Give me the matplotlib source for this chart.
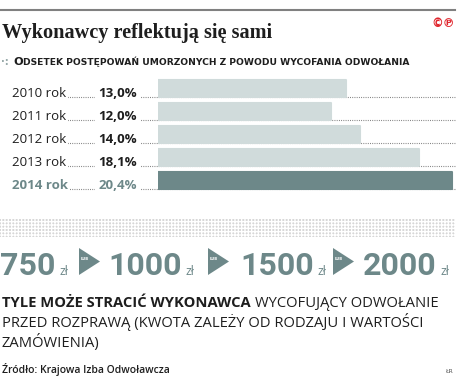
import matplotlib
matplotlib.use('Agg')
import matplotlib.pyplot as plt
import matplotlib.transforms as mtransforms
from matplotlib.lines import Line2D
from matplotlib.patches import Rectangle, Polygon

W, H = 458, 380

# dane
years = ['2010 rok', '2011 rok', '2012 rok', '2013 rok', '2014 rok']
shares = [13.0, 12.0, 14.0, 18.1, 20.4]
amounts = ['750', '1000', '1500', '2000']

teal = '#6d8889'
light = '#d0dbdb'
ink = '#1e1e1e'

fig = plt.figure(figsize=(W / 100, H / 100), dpi=100)
renderer = fig.canvas.get_renderer()


def fx(px):
    return px / W


def fy(py):
    return 1 - py / H


def width_px(t):
    return t.get_window_extent(renderer).width


# linia u gory + tytul
fig.add_artist(Line2D([0, fx(455)], [fy(10), fy(10)], transform=fig.transFigure,
                      color='#808080', lw=1.5))
fig.text(fx(2), fy(38), 'Wykonawcy reflektują się sami', family='Liberation Serif',
         weight='bold', size=14.6, color=ink, va='baseline')
fig.text(fx(455), fy(27), '©℗', ha='right', va='baseline', color='#e0262d',
         weight='bold', size=8.5)

# podtytul (kapitaliki)
fig.text(fx(1), fy(65), '·:', color='#9aa', size=7, va='baseline', weight='bold')
t = fig.text(fx(13), fy(65), 'O', family='DejaVu Sans', weight='bold', size=8.2,
             color=ink, va='baseline')
fig.text(fx(13) + width_px(t) / W, fy(65),
         'DSETEK POSTĘPOWAŃ UMORZONYCH Z POWODU WYCOFANIA ODWOŁANIA',
         family='DejaVu Sans', weight='bold', size=6.6, color=ink, va='baseline')

# wykres slupkowy
ax = fig.add_axes([fx(158), fy(192), fx(455) - fx(158), (192 - 77) / H])
colors = [light] * (len(shares) - 1) + [teal]
ax.barh(range(len(shares)), shares, height=0.7, color=colors, edgecolor=colors,
        lw=1.5, joinstyle='round', zorder=2)
ax.set_xlim(0, (455 - 158) / 14.43)
ax.set_ylim(len(shares) - 0.5, -0.5)
ax.axis('off')

trans = mtransforms.blended_transform_factory(fig.transFigure, ax.transData)
for i, (yr, v) in enumerate(zip(years, shares)):
    last = i == len(years) - 1
    c = teal if last else ink
    w = 'bold' if last else 'normal'
    ax.add_line(Line2D([fx(14), fx(455)], [i + 0.36] * 2, transform=trans,
                       ls=(0, (0.8, 1.2)), lw=0.8, color='#777', zorder=0, clip_on=False))
    ax.text(fx(12), i + 0.36, yr, transform=trans, va='baseline', family='Open Sans',
            size=9.5, weight=w, color=c, zorder=3,
            bbox=dict(fc='white', ec='none', pad=1.5))
    ax.text(fx(137), i + 0.36, f'{v:.1f}%'.replace('.', ','), transform=trans,
            ha='right', va='baseline', family='Open Sans', size=9.5, weight='bold',
            color=c, zorder=3, bbox=dict(fc='white', ec='none', pad=2.5))

# pas z kropek
plt.rcParams['hatch.linewidth'] = 1.0
fig.add_artist(Rectangle((0, fy(237)), fx(455), (237 - 218) / H, transform=fig.transFigure,
                         fc='#d6d6d6', ec='white', lw=0, hatch='+++++'))

# kwoty - rozmiar dopasowany do szerokosci "2000" (~74 px)
probe = fig.text(0, 0, amounts[-1], family='Roboto', weight='bold', size=26)
num_size = 26 * 74 / width_px(probe)
probe.remove()

num_x = [0, 108, 240, 363]
tri_x = [79, 208, 333]
for a, x in zip(amounts, num_x):
    t = fig.text(fx(x), fy(275), a, family='Roboto', weight='bold', size=num_size,
                 color=teal, va='baseline')
    fig.text(fx(x) + (width_px(t) + 4) / W, fy(275), 'zł', family='Open Sans',
             size=8.8, color=teal, va='baseline')
for x in tri_x:
    fig.add_artist(Polygon([(fx(x), fy(248)), (fx(x), fy(275)), (fx(x + 21), fy(261.5))],
                           closed=True, transform=fig.transFigure, fc=teal, ec='none'))
    fig.text(fx(x + 6), fy(259), 'LUB', size=2.6, color='white', ha='center',
             va='center', weight='bold')

# opis
t = fig.text(fx(2), fy(307), 'TYLE MOŻE STRACIĆ WYKONAWCA', family='Open Sans',
             weight='bold', size=10.6, color=ink, va='baseline')
fig.text(fx(2) + (width_px(t) + 4) / W, fy(307), 'WYCOFUJĄCY ODWOŁANIE',
         family='Open Sans', size=10.6, color=ink, va='baseline')
fig.text(fx(2), fy(327), 'PRZED ROZPRAWĄ (KWOTA ZALEŻY OD RODZAJU I WARTOŚCI',
         family='Open Sans', size=10.6, color=ink, va='baseline')
fig.text(fx(2), fy(347), 'ZAMÓWIENIA)', family='Open Sans', size=10.6, color=ink,
         va='baseline')

# zrodlo
fig.text(fx(2), fy(373), 'Źródło: Krajowa Izba Odwoławcza', family='Open Sans',
         weight='semibold', size=7.5, color=ink, va='baseline')
fig.text(fx(453), fy(373), 'ŁR', ha='right', va='baseline', size=4.5, color='#555')

fig.savefig('out.png', dpi=100)
